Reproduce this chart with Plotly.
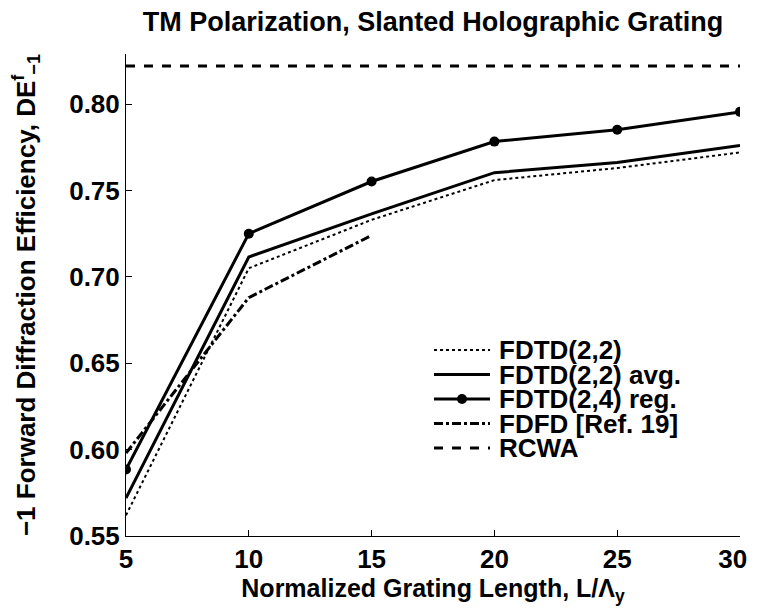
import plotly.graph_objects as go

x_len = [5, 10, 15, 20, 25, 30]
fdtd22 = [0.562, 0.705, 0.733, 0.756, 0.763, 0.772]
fdtd22_avg = [0.572, 0.7115, 0.7365, 0.7603, 0.7662, 0.776]
fdtd24_reg = [0.5885, 0.7250, 0.7552, 0.7783, 0.7852, 0.7955]
x_fdfd = [5, 10, 15]
fdfd = [0.598, 0.688, 0.724]
x_rcwa = [5, 30]
rcwa = [0.822, 0.822]

series_names = ["FDTD(2,2)", "FDTD(2,2) avg.", "FDTD(2,4) reg.", "FDFD [Ref. 19]", "RCWA"]
x_ticks = [5, 10, 15, 20, 25, 30]
x_tick_labels = ["5", "10", "15", "20", "25", "30\u00a0\u00a0"]
y_ticks = [0.55, 0.60, 0.65, 0.70, 0.75, 0.80]

FONT = "Liberation Sans, Arial, sans-serif"

styles = [
    dict(color="black", width=2, dash="dot"),
    dict(color="black", width=3),
    dict(color="black", width=3),
    dict(color="black", width=3, dash="dashdot"),
    dict(color="black", width=3, dash="dash"),
]

fig = go.Figure()
fig.add_trace(go.Scatter(x=x_len, y=fdtd22, mode="lines", name=series_names[0], line=styles[0]))
fig.add_trace(go.Scatter(x=x_len, y=fdtd22_avg, mode="lines", name=series_names[1], line=styles[1]))
fig.add_trace(go.Scatter(x=x_len, y=fdtd24_reg, mode="lines+markers", name=series_names[2],
                         line=styles[2], marker=dict(color="black", size=10)))
fig.add_trace(go.Scatter(x=x_fdfd, y=fdfd, mode="lines", name=series_names[3], line=styles[3]))
fig.add_trace(go.Scatter(x=x_rcwa, y=rcwa, mode="lines", name=series_names[4], line=styles[4]))

# page body has an 8px margin: figure placed at (8, 8) in the window
OFF = 8
W, H = 758 - OFF, 612 - OFF
# plot area in window pixels: x 126..740, y 54..536
ML, MR, MT, MB = 126 - OFF, 758 - 740, 54 - OFF, 612 - 536
pw, ph = W - ML - MR, H - MT - MB
def px(xw):  # window px -> paper x
    return (xw - 126) / pw
def py(yw):  # window px -> paper y
    return (536 - yw) / ph

row_y = [350, 374.5, 399, 423.5, 448]
x0s, x1s, xt = 434, 490, 497
shapes = []
annotations = []
for i, name in enumerate(series_names):
    st = styles[i]
    shapes.append(dict(type="line", xref="paper", yref="paper",
                       x0=px(x0s), x1=px(x1s), y0=py(row_y[i]), y1=py(row_y[i]),
                       line=dict(color="black", width=st["width"], dash=st.get("dash", "solid"))))
    annotations.append(dict(xref="paper", yref="paper", x=px(xt), y=py(row_y[i]),
                            xanchor="left", yanchor="middle", showarrow=False,
                            text="<b>%s</b>" % name, font=dict(size=26, family=FONT, color="black")))
shapes.append(dict(type="circle", xref="paper", yref="paper", fillcolor="black",
                   line=dict(color="black", width=0),
                   x0=px(462 - 5), x1=px(462 + 5), y0=py(row_y[2] + 5), y1=py(row_y[2] - 5)))

fig.update_layout(
    width=W, height=H,
    margin=dict(l=ML, r=MR, t=MT, b=MB, autoexpand=False),
    paper_bgcolor="white", plot_bgcolor="white",
    font=dict(family=FONT, color="black", size=26),
    title=dict(text="<b>TM Polarization, Slanted Holographic Grating</b>",
               xref="paper", x=0.5, xanchor="center", y=1 - 14 / H, yanchor="middle",
               font=dict(size=27, family=FONT)),
    showlegend=False,
    shapes=shapes,
    annotations=annotations,
)
fig.update_xaxes(range=[5, 30], tickvals=x_ticks, automargin=False,
                 ticktext=["<b>%s</b>" % v for v in x_tick_labels],
                 ticklabeloverflow="allow",
                 ticks="inside", ticklen=6, tickcolor="black", showgrid=False, zeroline=False,
                 showline=True, linecolor="black", linewidth=1, mirror=False,
                 tickfont=dict(size=26, family=FONT),
                 title=dict(text="<b>Normalized Grating Length, L/Λ<sub>y</sub></b>",
                            font=dict(size=25, family=FONT), standoff=2))
fig.update_yaxes(range=[0.55, 0.829], tickvals=y_ticks, automargin=False,
                 ticktext=["<b>%.2f</b>" % v for v in y_ticks],
                 ticks="inside", ticklen=6, tickcolor="black", showgrid=False, zeroline=False,
                 showline=True, linecolor="black", linewidth=1, mirror=False,
                 tickfont=dict(size=26, family=FONT),
                 title=dict(text="<b>−1 Forward Diffraction Efficiency, DE<sup>f</sup><sub>−1</sub></b>",
                            font=dict(size=26, family=FONT), standoff=27))

fig.write_html("out.html")
